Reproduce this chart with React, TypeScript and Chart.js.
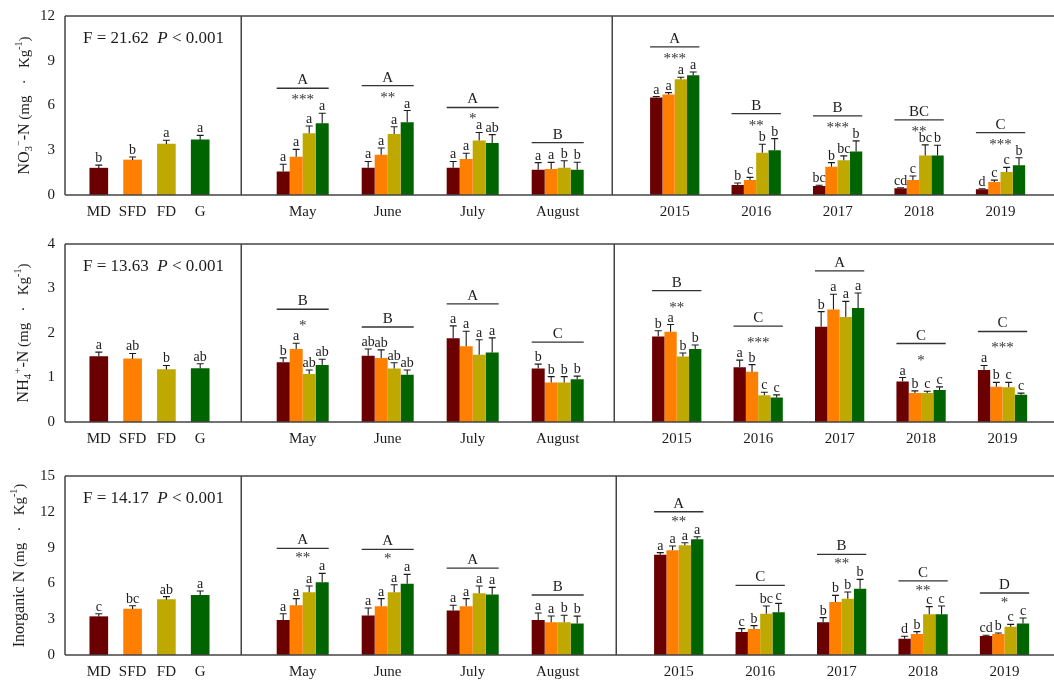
import React, { useEffect, useRef } from "react";
import { Chart, registerables } from "chart.js";

Chart.register(...registerables);

const FONT = "'Liberation Serif', 'Times New Roman', serif";
const INK = "#1c1c1c";
const FRAME = "#444444";

// ---------- shared categories ----------
const treatments = ["MD", "SFD", "FD", "G"];
const months = ["May", "June", "July", "August"];
const years = ["2015", "2016", "2017", "2018", "2019"];
const treatmentColors = ["#6a0000", "#ff8000", "#bfa900", "#006400"];

// ---------- NO3--N ----------
const no3Overall = [1.8, 2.35, 3.42, 3.7];
const no3OverallErr = [0.2, 0.2, 0.25, 0.3];
const no3OverallLetters = ["b", "b", "a", "a"];

// rows: MD, SFD, FD, G ; columns: May, June, July, August
const no3Month = [
  [1.57, 1.83, 1.83, 1.7],
  [2.57, 2.7, 2.42, 1.74],
  [4.14, 4.09, 3.65, 1.83],
  [4.81, 4.88, 3.49, 1.7],
];
const no3MonthErr = [
  [0.49, 0.42, 0.42, 0.47],
  [0.49, 0.45, 0.38, 0.45],
  [0.49, 0.49, 0.54, 0.47],
  [0.67, 0.78, 0.56, 0.5],
];
const no3MonthLetters = [
  ["a", "a", "a", "a"],
  ["a", "a", "a", "a"],
  ["a", "a", "a", "b"],
  ["a", "a", "ab", "b"],
];
const no3MonthGroups = ["A", "A", "A", "B"];
const no3MonthStars = ["***", "**", "*", ""];

// rows: MD, SFD, FD, G ; columns: 2015 … 2019
const no3Year = [
  [6.53, 0.67, 0.6, 0.45, 0.38],
  [6.73, 1.0, 1.9, 1.0, 0.87],
  [7.76, 2.84, 2.33, 2.64, 1.54],
  [8.03, 3.0, 2.91, 2.64, 1.99],
];
const no3YearErr = [
  [0.07, 0.13, 0.05, 0.04, 0.04],
  [0.13, 0.18, 0.27, 0.27, 0.13],
  [0.13, 0.56, 0.29, 0.72, 0.31],
  [0.22, 0.78, 0.72, 0.7, 0.51],
];
const no3YearLetters = [
  ["a", "b", "bc", "cd", "d"],
  ["a", "c", "b", "c", "c"],
  ["a", "b", "bc", "bc", "c"],
  ["a", "b", "b", "b", "b"],
];
const no3YearGroups = ["A", "B", "B", "BC", "C"];
const no3YearStars = ["***", "**", "***", "**", "***"];

// ---------- NH4+-N ----------
const nh4Overall = [1.47, 1.42, 1.18, 1.2];
const nh4OverallErr = [0.1, 0.12, 0.09, 0.11];
const nh4OverallLetters = ["a", "ab", "b", "ab"];

const nh4Month = [
  [1.34, 1.49, 1.88, 1.2],
  [1.64, 1.44, 1.7, 0.89],
  [1.08, 1.2, 1.51, 0.89],
  [1.28, 1.06, 1.56, 0.96],
];
const nh4MonthErr = [
  [0.1, 0.15, 0.28, 0.1],
  [0.13, 0.18, 0.34, 0.13],
  [0.09, 0.13, 0.34, 0.13],
  [0.13, 0.11, 0.33, 0.07],
];
const nh4MonthLetters = [
  ["b", "ab", "a", "b"],
  ["a", "ab", "a", "b"],
  ["ab", "ab", "a", "b"],
  ["ab", "ab", "a", "b"],
];
const nh4MonthGroups = ["B", "B", "A", "C"];
const nh4MonthStars = ["*", "", "", ""];

const nh4Year = [
  [1.92, 1.23, 2.14, 0.91, 1.17],
  [2.03, 1.13, 2.53, 0.65, 0.79],
  [1.47, 0.6, 2.36, 0.65, 0.78],
  [1.64, 0.55, 2.56, 0.72, 0.61],
];
const nh4YearErr = [
  [0.13, 0.16, 0.34, 0.09, 0.1],
  [0.16, 0.16, 0.34, 0.05, 0.1],
  [0.08, 0.07, 0.35, 0.04, 0.11],
  [0.09, 0.06, 0.34, 0.07, 0.04],
];
const nh4YearLetters = [
  ["b", "a", "b", "a", "a"],
  ["a", "b", "a", "b", "b"],
  ["b", "c", "a", "c", "c"],
  ["b", "c", "a", "c", "c"],
];
const nh4YearGroups = ["B", "C", "A", "C", "C"];
const nh4YearStars = ["**", "***", "", "*", "***"];

// ---------- Inorganic N ----------
const inorgOverall = [3.21, 3.85, 4.64, 5.0];
const inorgOverallErr = [0.25, 0.28, 0.25, 0.36];
const inorgOverallLetters = ["c", "bc", "ab", "a"];

const inorgMonth = [
  [2.93, 3.3, 3.72, 2.93],
  [4.16, 4.08, 4.08, 2.74],
  [5.25, 5.25, 5.17, 2.74],
  [6.09, 5.98, 5.08, 2.65],
];
const inorgMonthErr = [
  [0.53, 0.64, 0.45, 0.59],
  [0.56, 0.64, 0.64, 0.53],
  [0.53, 0.64, 0.61, 0.59],
  [0.75, 0.78, 0.59, 0.61],
];
const inorgMonthLetters = [
  ["a", "a", "a", "a"],
  ["a", "a", "a", "a"],
  ["a", "a", "a", "b"],
  ["a", "a", "a", "b"],
];
const inorgMonthGroups = ["A", "A", "A", "B"];
const inorgMonthStars = ["**", "*", "", ""];

const inorgYear = [
  [8.41, 1.93, 2.74, 1.37, 1.59],
  [8.77, 2.18, 4.44, 1.76, 1.76],
  [9.19, 3.46, 4.72, 3.41, 2.37],
  [9.69, 3.58, 5.56, 3.41, 2.65],
];
const inorgYearErr = [
  [0.17, 0.28, 0.39, 0.2, 0.06],
  [0.36, 0.28, 0.56, 0.2, 0.08],
  [0.22, 0.64, 0.56, 0.64, 0.2],
  [0.22, 0.75, 0.78, 0.7, 0.45],
];
const inorgYearLetters = [
  ["a", "c", "b", "d", "cd"],
  ["a", "b", "b", "b", "b"],
  ["a", "bc", "b", "c", "c"],
  ["a", "c", "b", "c", "c"],
];
const inorgYearGroups = ["A", "C", "B", "C", "D"];
const inorgYearStars = ["**", "", "**", "**", "*"];

// ---------- panel description ----------
type Piece = { text: string; size: number; shift?: number };

interface Section {
  labels: string[];
  means: number[][];
  errs: number[][];
  letters: string[][];
  groups: string[];
  stars: string[];
}

interface Panel {
  yMax: number;
  yStep: number;
  fValue: string;
  title: Piece[];
  overall: { means: number[]; errs: number[]; letters: string[] };
  months: Section;
  years: Section;
  frame: { top: number; bottom: number; midWidth: number; titleX: number };
  gaps: { stars: number; plain: number; starDrop: number };
}

const UNIT = " (mg   \u00b7   Kg";

const panels: Panel[] = [
  {
    yMax: 12,
    yStep: 3,
    fValue: "21.62",
    title: [
      { text: "NO", size: 16 },
      { text: "3", size: 11, shift: 4 },
      { text: "\u2212", size: 10, shift: -6 },
      { text: "-N", size: 16 },
      { text: UNIT, size: 15 },
      { text: "-1", size: 10, shift: -6 },
      { text: ")", size: 15 },
    ],
    overall: { means: no3Overall, errs: no3OverallErr, letters: no3OverallLetters },
    months: { labels: months, means: no3Month, errs: no3MonthErr, letters: no3MonthLetters, groups: no3MonthGroups, stars: no3MonthStars },
    years: { labels: years, means: no3Year, errs: no3YearErr, letters: no3YearLetters, groups: no3YearGroups, stars: no3YearStars },
    frame: { top: 16, bottom: 195, midWidth: 371, titleX: 25 },
    gaps: { stars: 25, plain: 18, starDrop: 9 },
  },
  {
    yMax: 4,
    yStep: 1,
    fValue: "13.63",
    title: [
      { text: "NH", size: 16 },
      { text: "4", size: 11, shift: 4 },
      { text: "+", size: 11, shift: -6 },
      { text: "-N", size: 16 },
      { text: UNIT, size: 15 },
      { text: "-1", size: 10, shift: -6 },
      { text: ")", size: 15 },
    ],
    overall: { means: nh4Overall, errs: nh4OverallErr, letters: nh4OverallLetters },
    months: { labels: months, means: nh4Month, errs: nh4MonthErr, letters: nh4MonthLetters, groups: nh4MonthGroups, stars: nh4MonthStars },
    years: { labels: years, means: nh4Year, errs: nh4YearErr, letters: nh4YearLetters, groups: nh4YearGroups, stars: nh4YearStars },
    frame: { top: 244, bottom: 422, midWidth: 373, titleX: 24 },
    gaps: { stars: 34, plain: 22, starDrop: 14 },
  },
  {
    yMax: 15,
    yStep: 3,
    fValue: "14.17",
    title: [
      { text: "Inorganic N", size: 16 },
      { text: UNIT, size: 15 },
      { text: "-1", size: 10, shift: -6 },
      { text: ")", size: 15 },
    ],
    overall: { means: inorgOverall, errs: inorgOverallErr, letters: inorgOverallLetters },
    months: { labels: months, means: inorgMonth, errs: inorgMonthErr, letters: inorgMonthLetters, groups: inorgMonthGroups, stars: inorgMonthStars },
    years: { labels: years, means: inorgYear, errs: inorgYearErr, letters: inorgYearLetters, groups: inorgYearGroups, stars: inorgYearStars },
    frame: { top: 476, bottom: 655, midWidth: 375, titleX: 20 },
    gaps: { stars: 25, plain: 18, starDrop: 7 },
  },
];

const PAGE_W = 1054;
const PAGE_H = 684;
const LEFT_W = 242;
const AXIS_H = 28;
const PAD_TOP = 22;
const Y_AXIS_W = 65;

// ---------- plugins ----------
type GroupMarks = { groups: string[]; stars: string[]; gapStars: number; gapPlain: number; starDrop: number };

function marksPlugin(errs: (number | null)[][], letters: (string | null)[][], grp?: GroupMarks) {
  return {
    id: "barMarks",
    afterDatasetsDraw(chart: any) {
      const ctx: CanvasRenderingContext2D = chart.ctx;
      const yScale = chart.scales.y;
      const cols: { top: number; left: number; right: number }[] = [];
      ctx.save();
      chart.data.datasets.forEach((ds: any, i: number) => {
        const meta = chart.getDatasetMeta(i);
        meta.data.forEach((el: any, j: number) => {
          const v = ds.data[j];
          const e = errs[i][j];
          if (v == null || e == null) return;
          const top = yScale.getPixelForValue(v + e);
          ctx.strokeStyle = INK;
          ctx.lineWidth = 1.1;
          ctx.beginPath();
          ctx.moveTo(el.x, el.y);
          ctx.lineTo(el.x, top);
          ctx.moveTo(el.x - 3.5, top);
          ctx.lineTo(el.x + 3.5, top);
          ctx.stroke();
          const lab = letters[i][j];
          if (lab) {
            ctx.fillStyle = INK;
            ctx.font = `14px ${FONT}`;
            ctx.textAlign = "center";
            ctx.textBaseline = "alphabetic";
            ctx.fillText(lab, el.x, top - 3);
          }
          const c = cols[j] || { top: Infinity, left: Infinity, right: -Infinity };
          c.top = Math.min(c.top, top);
          c.left = Math.min(c.left, el.x - el.width / 2);
          c.right = Math.max(c.right, el.x + el.width / 2);
          cols[j] = c;
        });
      });
      if (grp) {
        cols.forEach((c, j) => {
          if (!c) return;
          const s = grp.stars[j];
          const lineY = c.top - (s ? grp.gapStars : grp.gapPlain);
          ctx.strokeStyle = "#333";
          ctx.lineWidth = 1.3;
          ctx.beginPath();
          ctx.moveTo(c.left, lineY);
          ctx.lineTo(c.right, lineY);
          ctx.stroke();
          const cx = (c.left + c.right) / 2;
          ctx.fillStyle = INK;
          ctx.textAlign = "center";
          ctx.textBaseline = "alphabetic";
          ctx.font = `15px ${FONT}`;
          ctx.fillText(grp.groups[j], cx, lineY - 4);
          if (s) {
            ctx.fillStyle = "#333";
            ctx.font = `15px ${FONT}`;
            ctx.fillText(s, cx, lineY + grp.starDrop + 7);
          }
        });
      }
      ctx.restore();
    },
  };
}

function framePlugin(kind: "left" | "middle" | "right") {
  return {
    id: "frame",
    afterDraw(chart: any) {
      const ctx: CanvasRenderingContext2D = chart.ctx;
      const a = chart.chartArea;
      const w = chart.width;
      const x0 = kind === "left" ? a.left : 0;
      ctx.save();
      ctx.strokeStyle = FRAME;
      ctx.lineWidth = 1.5;
      ctx.beginPath();
      ctx.moveTo(x0, a.top);
      ctx.lineTo(w, a.top);
      ctx.moveTo(x0, a.bottom);
      ctx.lineTo(w, a.bottom);
      if (kind === "left") {
        ctx.moveTo(a.left, a.top);
        ctx.lineTo(a.left, a.bottom);
      }
      if (kind !== "right") {
        ctx.moveTo(w - 0.75, a.top);
        ctx.lineTo(w - 0.75, a.bottom);
      }
      ctx.stroke();
      ctx.restore();
    },
  };
}

function leftDecorPlugin(p: Panel) {
  return {
    id: "leftDecor",
    afterDraw(chart: any) {
      const ctx: CanvasRenderingContext2D = chart.ctx;
      const a = chart.chartArea;
      ctx.save();
      ctx.fillStyle = INK;
      ctx.textBaseline = "middle";
      ctx.textAlign = "left";
      // statistics note
      let x = a.left + 18;
      const y = a.top + 23;
      const parts: [string, boolean][] = [
        [`F = ${p.fValue}  `, false],
        ["P", true],
        [" < 0.001", false],
      ];
      parts.forEach(([t, it]) => {
        ctx.font = `${it ? "italic " : ""}17px ${FONT}`;
        ctx.fillText(t, x, y);
        x += ctx.measureText(t).width;
      });
      // rotated axis title
      let total = 0;
      p.title.forEach((pc) => {
        ctx.font = `${pc.size}px ${FONT}`;
        total += ctx.measureText(pc.text).width;
      });
      ctx.translate(p.frame.titleX, (a.top + a.bottom) / 2);
      ctx.rotate(-Math.PI / 2);
      let tx = -total / 2;
      p.title.forEach((pc) => {
        ctx.font = `${pc.size}px ${FONT}`;
        ctx.fillText(pc.text, tx, pc.shift || 0);
        tx += ctx.measureText(pc.text).width;
      });
      ctx.restore();
    },
  };
}

// ---------- chart configs ----------
const tickFont = { family: FONT, size: 15 };

function xAxis(offset: boolean) {
  return {
    type: "category",
    offset,
    grid: { display: false, drawTicks: false },
    border: { display: false },
    ticks: { font: tickFont, color: INK, padding: 8, autoSkip: false, maxRotation: 0, minRotation: 0 },
    afterFit: (s: any) => {
      s.height = AXIS_H;
    },
  };
}

function overallConfig(p: Panel): any {
  const clear = "rgba(0,0,0,0)";
  return {
    type: "bar",
    data: {
      labels: ["", ...treatments, ""],
      datasets: [
        {
          data: [null, ...p.overall.means, null],
          backgroundColor: [clear, ...treatmentColors, clear],
          borderWidth: 0,
          barThickness: 18,
        },
      ],
    },
    options: {
      animation: false,
      responsive: false,
      layout: { padding: { top: PAD_TOP, left: 0, right: 0, bottom: 0 } },
      plugins: { legend: { display: false }, tooltip: { enabled: false } },
      scales: {
        x: xAxis(false),
        y: {
          min: 0,
          max: p.yMax,
          ticks: { stepSize: p.yStep, font: tickFont, color: INK, padding: 10 },
          grid: { display: false, drawTicks: false },
          border: { display: false },
          afterFit: (s: any) => {
            s.width = Y_AXIS_W;
          },
        },
      },
    },
    plugins: [
      marksPlugin([[null, ...p.overall.errs, null]], [[null, ...p.overall.letters, null]]),
      framePlugin("left"),
      leftDecorPlugin(p),
    ],
  };
}

function groupedConfig(p: Panel, sec: Section, padLeft: number, padRight: number, catPct: number, kind: "middle" | "right"): any {
  return {
    type: "bar",
    data: {
      labels: sec.labels,
      datasets: treatments.map((t, i) => ({
        label: t,
        data: sec.means[i],
        backgroundColor: treatmentColors[i],
        borderWidth: 0,
        barPercentage: 1,
        categoryPercentage: catPct,
      })),
    },
    options: {
      animation: false,
      responsive: false,
      layout: { padding: { top: PAD_TOP, left: padLeft, right: padRight, bottom: 0 } },
      plugins: { legend: { display: false }, tooltip: { enabled: false } },
      scales: {
        x: xAxis(true),
        y: { display: false, min: 0, max: p.yMax },
      },
    },
    plugins: [
      marksPlugin(sec.errs, sec.letters, {
        groups: sec.groups,
        stars: sec.stars,
        gapStars: p.gaps.stars,
        gapPlain: p.gaps.plain,
        starDrop: p.gaps.starDrop,
      }),
      framePlugin(kind),
    ],
  };
}

// ---------- components ----------
function ChartCanvas(props: { left: number; top: number; width: number; height: number; build: () => any }) {
  const ref = useRef<HTMLCanvasElement>(null);
  useEffect(() => {
    const chart = new Chart(ref.current as HTMLCanvasElement, props.build());
    return () => chart.destroy();
  }, []);
  return (
    <canvas
      ref={ref}
      width={props.width}
      height={props.height}
      style={{ position: "absolute", left: props.left, top: props.top, width: props.width, height: props.height }}
    />
  );
}

function PanelRow({ p }: { p: Panel }) {
  const top = p.frame.top - PAD_TOP;
  const height = p.frame.bottom - p.frame.top + PAD_TOP + AXIS_H;
  const midW = p.frame.midWidth;
  const rightX = LEFT_W + midW;
  const rightW = PAGE_W - rightX;
  const midPadL = 18.2;
  const midPadR = midW - midPadL - 340;
  const rightPadL = 21;
  const rightPadR = rightW - rightPadL - 407.25;
  return (
    <>
      <ChartCanvas left={0} top={top} width={LEFT_W} height={height} build={() => overallConfig(p)} />
      <ChartCanvas
        left={LEFT_W}
        top={top}
        width={midW}
        height={height}
        build={() => groupedConfig(p, p.months, midPadL, midPadR, 0.612, "middle")}
      />
      <ChartCanvas
        left={rightX}
        top={top}
        width={rightW}
        height={height}
        build={() => groupedConfig(p, p.years, rightPadL, rightPadR, 0.605, "right")}
      />
    </>
  );
}

export default function App() {
  return (
    <div
      style={{
        position: "absolute",
        left: 0,
        top: 0,
        width: PAGE_W,
        height: PAGE_H,
        overflow: "hidden",
        background: "#ffffff",
      }}
    >
      {panels.map((p, i) => (
        <PanelRow key={i} p={p} />
      ))}
    </div>
  );
}
